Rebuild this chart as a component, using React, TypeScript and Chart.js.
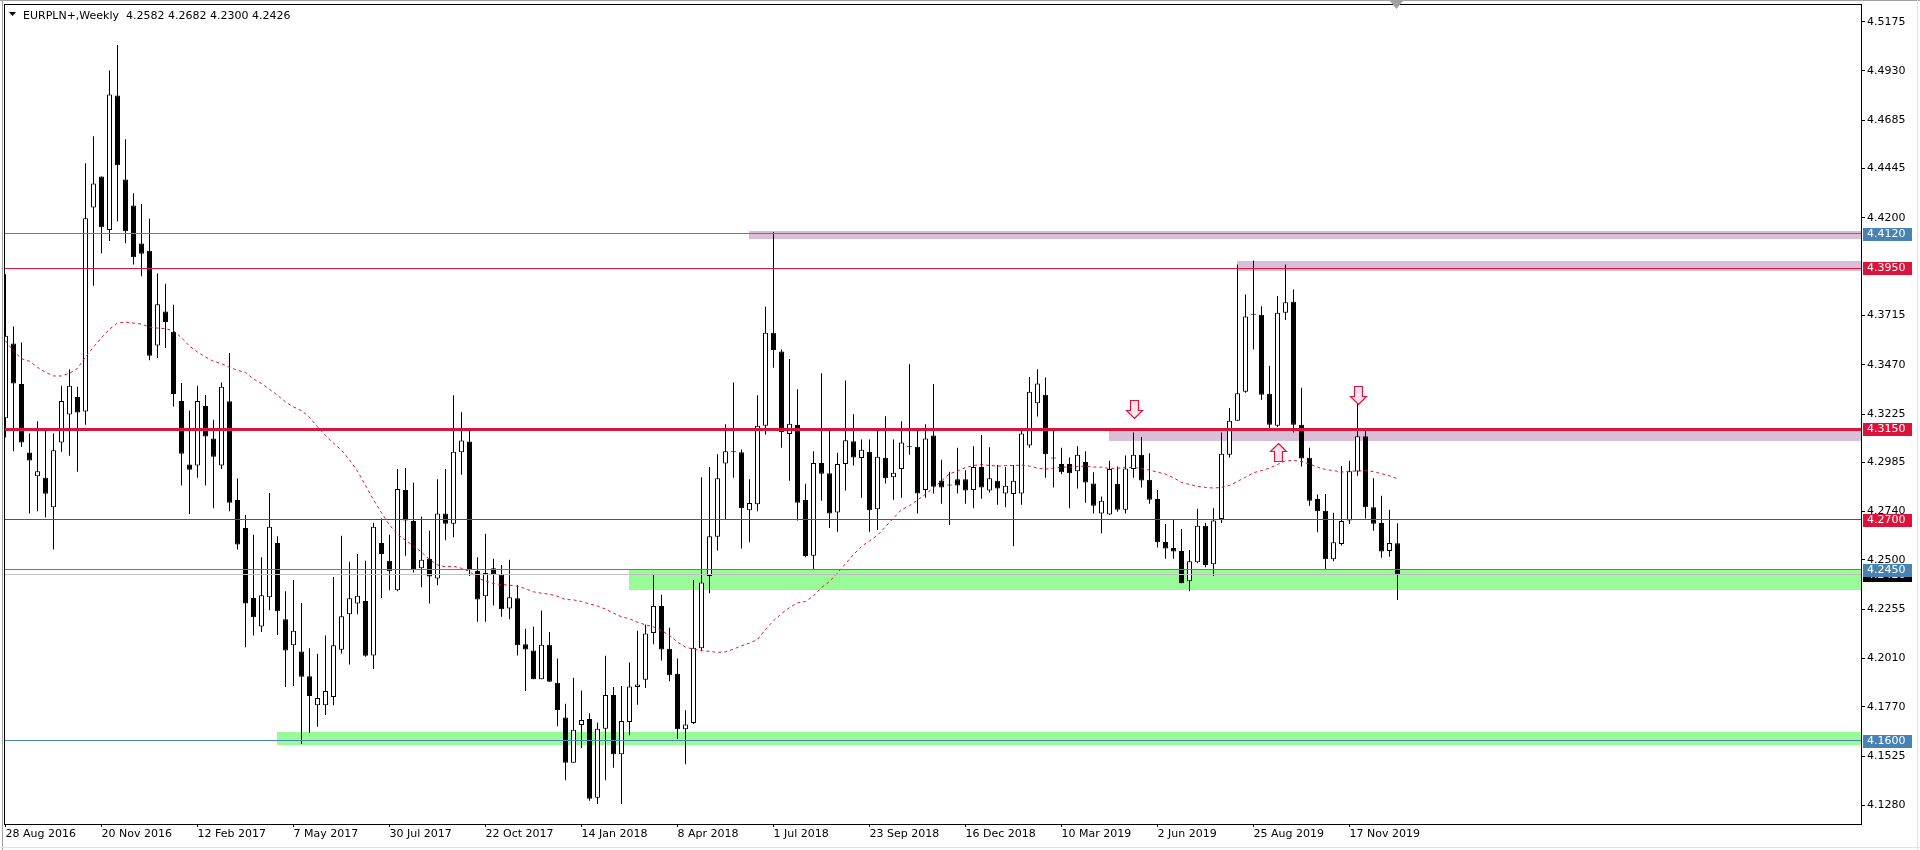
import React, { useEffect, useRef } from 'react';
import { Chart, registerables } from 'chart.js';

Chart.register(...registerables);

const TITLE = 'EURPLN+,Weekly  4.2582 4.2682 4.2300 4.2426';

const opens = [
  4.3204, 4.3576, 4.3374, 4.3034, 4.2916, 4.2908, 4.2761, 4.3083, 4.3222, 4.3310,
  4.3237, 4.4252, 4.4406, 4.4140, 4.4808, 4.4391, 4.4262, 4.4072, 4.4036, 4.3566,
  4.3735, 4.3634, 4.3290, 4.2974, 4.2969, 4.3265, 4.3103, 4.2969, 4.3288, 4.2797,
  4.2658, 4.2311, 4.2169, 4.2314, 4.2584, 4.2205, 4.2076, 4.2045, 4.1921, 4.1777,
  4.1777, 4.1818, 4.2053, 4.2230, 4.2283, 4.2296, 4.2025, 4.2584, 4.2496, 4.2349,
  4.2847, 4.2693, 4.2458, 4.2506, 4.2407, 4.2731, 4.2680, 4.3035, 4.3088, 4.2445,
  4.2319, 4.2458, 4.2427, 4.2258, 4.2309, 4.2081, 4.2050, 4.1906, 4.2078, 4.1889,
  4.1716, 4.1491, 4.1679, 4.1709, 4.1317, 4.1661, 4.1828, 4.1534, 4.1694, 4.1868,
  4.1904, 4.2136, 4.2271, 4.2058, 4.1934, 4.1658, 4.1689, 4.2060, 4.2420, 4.2615,
  4.2979, 4.3035, 4.3035, 4.2746, 4.2777, 4.3166, 4.3629, 4.3536, 4.3126, 4.3171,
  4.2797, 4.2521, 4.2981, 4.2931, 4.2736, 4.2976, 4.3090, 4.3006, 4.3037, 4.2751,
  4.3007, 4.2911, 4.2951, 4.3060, 4.3062, 4.2847, 4.3118, 4.2895, 4.2870, 4.2901,
  4.2901, 4.2847, 4.2961, 4.2845, 4.2893, 4.2830, 4.2827, 4.2830, 4.3068, 4.3278,
  4.3321, 4.3004, 4.2976, 4.2976, 4.2941, 4.2987, 4.2880, 4.2731, 4.2726, 4.2878,
  4.2749, 4.2951, 4.3022, 4.2898, 4.2802, 4.2589, 4.2559, 4.2544, 4.2394, 4.2488,
  4.2670, 4.2478, 4.2703, 4.3022, 4.3191, 4.3336, 4.3718, 4.3718, 4.3326, 4.3166,
  4.3728, 4.3783, 4.3171, 4.3007, 4.2802, 4.2744, 4.2503, 4.2579, 4.2696, 4.2939,
  4.3115, 4.2761, 4.2683, 4.2544, 4.2582,
];
const highs = [
  4.3920, 4.3660, 4.3581, 4.3128, 4.3189, 4.3141, 4.3128, 4.3366, 4.3447, 4.3361,
  4.4472, 4.4606, 4.4406, 4.4932, 4.5059, 4.4591, 4.4322, 4.4269, 4.4196, 4.3923,
  4.3872, 4.3768, 4.3379, 4.3242, 4.3366, 4.3320, 4.3196, 4.3381, 4.3528, 4.2905,
  4.2723, 4.2625, 4.2513, 4.2832, 4.2617, 4.2344, 4.2400, 4.2285, 4.2061, 4.2033,
  4.2124, 4.2415, 4.2620, 4.2491, 4.2529, 4.2496, 4.2685, 4.2706, 4.2625, 4.2951,
  4.2956, 4.2883, 4.2716, 4.2645, 4.2901, 4.2951, 4.3318, 4.3234, 4.3153, 4.2513,
  4.2630, 4.2506, 4.2475, 4.2501, 4.2374, 4.2157, 4.2167, 4.2248, 4.2142, 4.2010,
  4.1785, 4.1914, 4.1851, 4.1737, 4.1691, 4.2023, 4.1868, 4.1873, 4.1990, 4.2147,
  4.2179, 4.2425, 4.2326, 4.2162, 4.2010, 4.1752, 4.2400, 4.2911, 4.2961, 4.3025,
  4.3174, 4.3381, 4.3048, 4.2901, 4.3318, 4.3758, 4.4130, 4.3546, 4.3498, 4.3348,
  4.2878, 4.3040, 4.3427, 4.3156, 4.3032, 4.3391, 4.3224, 4.3098, 4.3098, 4.3141,
  4.3214, 4.3098, 4.3189, 4.3472, 4.3141, 4.3174, 4.3374, 4.2997, 4.2938, 4.3057,
  4.2946, 4.3065, 4.3121, 4.3060, 4.2971, 4.2961, 4.2971, 4.3141, 4.3409, 4.3447,
  4.3406, 4.3141, 4.3057, 4.3009, 4.3065, 4.3040, 4.2936, 4.2815, 4.2992, 4.2964,
  4.3019, 4.3133, 4.3111, 4.3030, 4.2847, 4.2678, 4.2698, 4.2653, 4.2549, 4.2754,
  4.2685, 4.2756, 4.3133, 4.3255, 4.3968, 4.3819, 4.3988, 4.3761, 4.3465, 4.3811,
  4.3968, 4.3844, 4.3356, 4.3057, 4.2825, 4.2827, 4.2734, 4.2966, 4.2992, 4.3275,
  4.3141, 4.2906, 4.2819, 4.2749, 4.2682,
];
const lows = [
  4.3108, 4.3040, 4.3062, 4.2731, 4.2741, 4.2711, 4.2551, 4.3037, 4.3017, 4.2938,
  4.3171, 4.3862, 4.4024, 4.4085, 4.4183, 4.4074, 4.3968, 4.3910, 4.3492, 4.3503,
  4.3553, 4.3262, 4.2870, 4.2728, 4.2908, 4.2870, 4.2756, 4.2951, 4.2741, 4.2551,
  4.2066, 4.2124, 4.2142, 4.2250, 4.2126, 4.1868, 4.1873, 4.1585, 4.1641, 4.1671,
  4.1729, 4.1777, 4.2035, 4.1980, 4.2230, 4.2018, 4.1957, 4.2311, 4.2349, 4.2344,
  4.2521, 4.2437, 4.2364, 4.2283, 4.2374, 4.2597, 4.2612, 4.2923, 4.2420, 4.2192,
  4.2192, 4.2273, 4.2217, 4.2205, 4.2025, 4.1848, 4.1906, 4.1906, 4.1894, 4.1673,
  4.1405, 4.1491, 4.1565, 4.1302, 4.1286, 4.1405, 4.1466, 4.1286, 4.1628, 4.1780,
  4.1863, 4.2081, 4.2000, 4.1896, 4.1610, 4.1484, 4.1684, 4.2048, 4.2334, 4.2546,
  4.2703, 4.2908, 4.2556, 4.2587, 4.2741, 4.3123, 4.3455, 4.3057, 4.2893, 4.2696,
  4.2513, 4.2453, 4.2794, 4.2658, 4.2640, 4.2845, 4.2969, 4.2809, 4.2640, 4.2648,
  4.2880, 4.2799, 4.2809, 4.3022, 4.2731, 4.2809, 4.2830, 4.2779, 4.2673, 4.2830,
  4.2779, 4.2756, 4.2804, 4.2835, 4.2774, 4.2761, 4.2567, 4.2774, 4.3057, 4.3212,
  4.2908, 4.2860, 4.2926, 4.2756, 4.2855, 4.2784, 4.2731, 4.2632, 4.2723, 4.2739,
  4.2731, 4.2908, 4.2860, 4.2779, 4.2562, 4.2506, 4.2506, 4.2384, 4.2344, 4.2483,
  4.2463, 4.2420, 4.2683, 4.3009, 4.3191, 4.3331, 4.3546, 4.3295, 4.3153, 4.3161,
  4.3692, 4.3133, 4.2964, 4.2769, 4.2637, 4.2450, 4.2493, 4.2571, 4.2678, 4.2918,
  4.2706, 4.2645, 4.2511, 4.2516, 4.2300,
];
const closes = [
  4.3614, 4.3376, 4.3083, 4.2994, 4.2941, 4.2829, 4.3045, 4.3290, 4.3366, 4.3232,
  4.4198, 4.4371, 4.4153, 4.4813, 4.4462, 4.4133, 4.4004, 4.4021, 4.3515, 4.3771,
  4.3682, 4.3325, 4.3027, 4.2948, 4.3290, 4.3113, 4.3012, 4.3361, 4.2784, 4.2576,
  4.2283, 4.2215, 4.2324, 4.2665, 4.2245, 4.2050, 4.2147, 4.1919, 4.1823, 4.1813,
  4.1848, 4.2076, 4.2220, 4.2309, 4.2321, 4.2023, 4.2665, 4.2529, 4.2443, 4.2852,
  4.2696, 4.2450, 4.2501, 4.2417, 4.2731, 4.2680, 4.3037, 4.3093, 4.2450, 4.2303,
  4.2435, 4.2427, 4.2255, 4.2314, 4.2076, 4.2055, 4.1906, 4.2078, 4.1894, 4.1754,
  4.1491, 4.1656, 4.1704, 4.1312, 4.1661, 4.1828, 4.1534, 4.1699, 4.1871, 4.1881,
  4.2134, 4.2271, 4.2055, 4.1926, 4.1658, 4.1681, 4.2063, 4.2387, 4.2617, 4.2906,
  4.3040, 4.3037, 4.2756, 4.2782, 4.3166, 4.3629, 4.3543, 4.3136, 4.3176, 4.2784,
  4.2519, 4.2981, 4.2928, 4.2731, 4.2976, 4.3095, 4.3009, 4.3047, 4.2746, 4.3012,
  4.2906, 4.2933, 4.3083, 4.3061, 4.2830, 4.3103, 4.2863, 4.2860, 4.2872, 4.2870,
  4.2845, 4.2961, 4.2860, 4.2906, 4.2855, 4.2868, 4.2893, 4.3128, 4.3336, 4.3376,
  4.3025, 4.3005, 4.2936, 4.2931, 4.3022, 4.2885, 4.2769, 4.2794, 4.2951, 4.2749,
  4.2954, 4.3022, 4.2895, 4.2799, 4.2587, 4.2556, 4.2541, 4.2384, 4.2493, 4.2670,
  4.2475, 4.2696, 4.3027, 4.3191, 4.3328, 4.3710, 4.3719, 4.3321, 4.3171, 4.3728,
  4.3781, 4.3171, 4.3004, 4.2794, 4.2741, 4.2503, 4.2587, 4.2693, 4.2941, 4.3115,
  4.2761, 4.2680, 4.2541, 4.2584, 4.2426,
];
const maValues = [
  4.3589, 4.3538, 4.3500, 4.3487, 4.3457, 4.3432, 4.3414, 4.3414, 4.3427, 4.3452,
  4.3508, 4.3558, 4.3604, 4.3647, 4.3677, 4.3682, 4.3677, 4.3672, 4.3657, 4.3652,
  4.3649, 4.3639, 4.3604, 4.3563, 4.3533, 4.3508, 4.3487, 4.3475, 4.3457, 4.3442,
  4.3432, 4.3399, 4.3376, 4.3348, 4.3318, 4.3285, 4.3260, 4.3242, 4.3209, 4.3161,
  4.3118, 4.3080, 4.3045, 4.2997, 4.2941, 4.2870, 4.2799, 4.2734, 4.2673, 4.2627,
  4.2597, 4.2569, 4.2539, 4.2501, 4.2475, 4.2465, 4.2468, 4.2458, 4.2443, 4.2410,
  4.2395, 4.2382, 4.2377, 4.2374, 4.2369, 4.2357, 4.2341, 4.2334, 4.2329, 4.2319,
  4.2303, 4.2301, 4.2293, 4.2281, 4.2271, 4.2255, 4.2235, 4.2217, 4.2207, 4.2190,
  4.2177, 4.2167, 4.2149, 4.2124, 4.2091, 4.2066, 4.2056, 4.2048, 4.2045, 4.2040,
  4.2043, 4.2056, 4.2073, 4.2086, 4.2104, 4.2154, 4.2197, 4.2233, 4.2263, 4.2286,
  4.2293, 4.2321, 4.2362, 4.2392, 4.2435, 4.2481, 4.2526, 4.2567, 4.2594, 4.2622,
  4.2665, 4.2708, 4.2749, 4.2769, 4.2797, 4.2827, 4.2858, 4.2893, 4.2928, 4.2941,
  4.2959, 4.2969, 4.2974, 4.2969, 4.2966, 4.2969, 4.2969, 4.2971, 4.2966, 4.2956,
  4.2951, 4.2956, 4.2961, 4.2961, 4.2964, 4.2966, 4.2961, 4.2961, 4.2954, 4.2956,
  4.2959, 4.2959, 4.2954, 4.2946, 4.2936, 4.2926, 4.2908, 4.2885, 4.2875, 4.2865,
  4.2860, 4.2857, 4.2860, 4.2870, 4.2890, 4.2911, 4.2933, 4.2944, 4.2956, 4.2974,
  4.2992, 4.2994, 4.2989, 4.2976, 4.2961, 4.2949, 4.2944, 4.2936, 4.2941, 4.2941,
  4.2944, 4.2939, 4.2928, 4.2918, 4.2903,
];

const xTickIndex = [0, 12, 24, 36, 48, 60, 72, 84, 96, 108, 120, 132, 144, 156, 168];
const xTickLabels = [
  '28 Aug 2016', '20 Nov 2016', '12 Feb 2017', '7 May 2017', '30 Jul 2017',
  '22 Oct 2017', '14 Jan 2018', '8 Apr 2018', '1 Jul 2018', '23 Sep 2018',
  '16 Dec 2018', '10 Mar 2019', '2 Jun 2019', '25 Aug 2019', '17 Nov 2019',
];
const yTickValues = [
  4.5175, 4.4930, 4.4685, 4.4445, 4.4200, 4.3715, 4.3470, 4.3225, 4.2985,
  4.2740, 4.2500, 4.2255, 4.2010, 4.1770, 4.1525, 4.1280,
];

const levelPrices = [4.4120, 4.3950, 4.3150, 4.2700, 4.2450, 4.1600];
const levelColors = ['#4682B4', '#DC143C', '#DC143C', '#DC143C', '#4682B4', '#4682B4'];
const levelWidths = [1, 1, 3, 1, 1, 1];
const bidPrice = 4.2426;

const zoneFrom = [92.9, 153.9, 137.9, 77.9, 33.9];
const zoneLow = [4.4095, 4.3935, 4.3090, 4.2348, 4.1578];
const zoneHigh = [4.4135, 4.3988, 4.3150, 4.2455, 4.1645];
const zoneColors = ['#D8BFD8', '#D8BFD8', '#D8BFD8', '#98FB98', '#98FB98'];

const arrowIndex = [141, 169, 159];
const arrowTip = [4.3205, 4.3275, 4.3083];
const arrowDir = ['down', 'down', 'up'];

const Y_MIN = 4.1187;
const Y_MAX = 4.5263;
const X_MIN = -0.1875;
const X_MAX = 231.9375;
const FONT = '"DejaVu Sans", Verdana, sans-serif';

const overlayPlugin = {
  id: 'mtOverlay',
  beforeDatasetsDraw(chart: any) {
    const { ctx, chartArea, scales } = chart;
    const xs = scales.x;
    const ys = scales.y;
    ctx.save();
    for (let i = 0; i < zoneFrom.length; i++) {
      const x0 = Math.round(xs.getPixelForValue(zoneFrom[i]));
      const yTop = Math.round(ys.getPixelForValue(zoneHigh[i]));
      const yBot = Math.round(ys.getPixelForValue(zoneLow[i]));
      ctx.fillStyle = zoneColors[i];
      ctx.fillRect(x0, yTop, chartArea.right - x0, yBot - yTop);
    }
    ctx.restore();
  },
  afterDatasetsDraw(chart: any) {
    const { ctx, chartArea, scales } = chart;
    const xs = scales.x;
    const ys = scales.y;
    const L = chartArea.left;
    const R = chartArea.right;
    ctx.save();
    ctx.fillStyle = '#C0C0C0';
    ctx.fillRect(L, Math.floor(ys.getPixelForValue(bidPrice)), R - L, 1);
    for (let i = 0; i < levelPrices.length; i++) {
      const y = Math.floor(ys.getPixelForValue(levelPrices[i]));
      const w = levelWidths[i];
      ctx.fillStyle = levelColors[i];
      ctx.fillRect(L, y - Math.floor(w / 2), R - L, w);
    }
    for (let i = 0; i < arrowIndex.length; i++) {
      const tx = Math.round(xs.getPixelForValue(arrowIndex[i])) + 0.5;
      const ty = Math.round(ys.getPixelForValue(arrowTip[i])) + 0.5;
      const s = arrowDir[i] === 'down' ? -1 : 1;
      ctx.beginPath();
      ctx.moveTo(tx, ty);
      ctx.lineTo(tx + 8, ty + s * 8);
      ctx.lineTo(tx + 4, ty + s * 8);
      ctx.lineTo(tx + 4, ty + s * 18);
      ctx.lineTo(tx - 4, ty + s * 18);
      ctx.lineTo(tx - 4, ty + s * 8);
      ctx.lineTo(tx - 8, ty + s * 8);
      ctx.closePath();
      ctx.fillStyle = '#FFE4EC';
      ctx.fill();
      ctx.strokeStyle = '#DC143C';
      ctx.lineWidth = 1.2;
      ctx.stroke();
    }
    ctx.restore();
  },
  afterDraw(chart: any) {
    const { ctx, chartArea, scales } = chart;
    const ys = scales.y;
    ctx.save();
    ctx.strokeStyle = '#000';
    ctx.lineWidth = 1;
    ctx.strokeRect(chartArea.left + 0.5, chartArea.top + 0.5, chartArea.right - chartArea.left, chartArea.bottom - chartArea.top);
    ctx.fillStyle = '#A0A0A0';
    ctx.fillRect(0, 0, 1920, 1);
    ctx.fillRect(2, 0, 1, 850);
    ctx.fillStyle = '#E3E3E3';
    ctx.fillRect(1917, 0, 1, 850);
    ctx.fillRect(0, 847, 1920, 1);
    // chart shift marker
    ctx.fillStyle = '#A0A0A0';
    ctx.beginPath();
    ctx.moveTo(1390, 1);
    ctx.lineTo(1403, 1);
    ctx.lineTo(1396.5, 9);
    ctx.closePath();
    ctx.fill();
    ctx.font = '11px ' + FONT;
    ctx.textBaseline = 'middle';
    ctx.textAlign = 'left';
    const drawBox = (price: number, color: string) => {
      const y = Math.round(ys.getPixelForValue(price));
      ctx.fillStyle = color;
      ctx.fillRect(chartArea.right + 2, y - 6, 49, 13);
      ctx.fillStyle = '#FFFFFF';
      ctx.fillText(price.toFixed(4), chartArea.right + 6, y + 0.5);
    };
    drawBox(bidPrice, '#000000');
    for (let i = 0; i < levelPrices.length; i++) drawBox(levelPrices[i], levelColors[i]);
    ctx.fillStyle = '#000';
    ctx.beginPath();
    ctx.moveTo(9, 12);
    ctx.lineTo(16, 12);
    ctx.lineTo(12.5, 16);
    ctx.closePath();
    ctx.fill();
    ctx.textBaseline = 'alphabetic';
    ctx.fillText(TITLE, 23, 19);
    ctx.restore();
  },
};

const zeroPad = (scale: any) => {
  scale.paddingTop = 0;
  scale.paddingBottom = 0;
  scale.paddingLeft = 0;
  scale.paddingRight = 0;
};

export default function App() {
  const canvasRef = useRef<HTMLCanvasElement | null>(null);

  useEffect(() => {
    if (!canvasRef.current) return;
    const idx = opens.map((_, i) => i);
    const chart = new Chart(canvasRef.current, {
      type: 'bar',
      data: {
        datasets: [
          {
            type: 'line',
            data: idx.map((i) => ({ x: i, y: maValues[i] })),
            borderColor: '#DC143C',
            borderWidth: 1,
            borderDash: [3, 3],
            pointRadius: 0,
            fill: false,
            order: -1,
          } as any,
          {
            type: 'bar',
            data: idx.map((i) => ({ x: i, y: [opens[i], closes[i]] })),
            barThickness: 5,
            backgroundColor: idx.map((i) => (closes[i] >= opens[i] ? '#FFFFFF' : '#000000')),
            borderColor: '#000000',
            borderWidth: 1,
            borderSkipped: false,
            minBarLength: 1,
            inflateAmount: 0,
            order: 0,
          } as any,
          {
            type: 'bar',
            data: idx.map((i) => ({ x: i, y: [lows[i], highs[i]] })),
            barThickness: 1,
            backgroundColor: '#000000',
            borderWidth: 0,
            inflateAmount: 0,
            order: 1,
          } as any,
        ],
      },
      options: {
        animation: false,
        responsive: false,
        devicePixelRatio: 1,
        layout: { padding: { left: 4, top: 4, right: 0, bottom: 0 } },
        datasets: { bar: { grouped: false } } as any,
        plugins: { legend: { display: false }, tooltip: { enabled: false } },
        font: { family: FONT, size: 11 },
        scales: {
          x: {
            type: 'linear',
            min: X_MIN,
            max: X_MAX,
            offset: false,
            afterBuildTicks: (scale: any) => {
              scale.ticks = xTickIndex.map((v) => ({ value: v }));
            },
            afterFit: (scale: any) => {
              scale.height = 26;
              zeroPad(scale);
            },
            grid: { display: true, drawOnChartArea: false, drawTicks: true, tickLength: 3, color: '#000', offset: false },
            border: { display: false },
            ticks: {
              autoSkip: false,
              maxRotation: 0,
              minRotation: 0,
              align: 'start',
              padding: 1,
              color: '#000',
              font: { family: FONT, size: 11 },
              callback: (v: any) => {
                const k = xTickIndex.indexOf(Math.round(Number(v)));
                return k >= 0 ? xTickLabels[k] : '';
              },
            },
          },
          y: {
            type: 'linear',
            position: 'right',
            min: Y_MIN,
            max: Y_MAX,
            afterBuildTicks: (scale: any) => {
              scale.ticks = yTickValues.map((v) => ({ value: v }));
            },
            afterFit: (scale: any) => {
              scale.width = 59;
              zeroPad(scale);
            },
            grid: { display: true, drawOnChartArea: false, drawTicks: true, tickLength: 4, color: '#000' },
            border: { display: false },
            ticks: {
              autoSkip: false,
              padding: 2,
              color: '#000',
              font: { family: FONT, size: 11 },
              callback: (v: any) => Number(v).toFixed(4),
            },
          },
        },
      } as any,
      plugins: [overlayPlugin],
    });
    return () => chart.destroy();
  }, []);

  return (
    <div style={{ position: 'fixed', left: 0, top: 0, width: 1920, height: 850, background: '#FFFFFF' }}>
      <canvas ref={canvasRef} width={1920} height={850} style={{ width: 1920, height: 850, display: 'block' }} />
    </div>
  );
}
